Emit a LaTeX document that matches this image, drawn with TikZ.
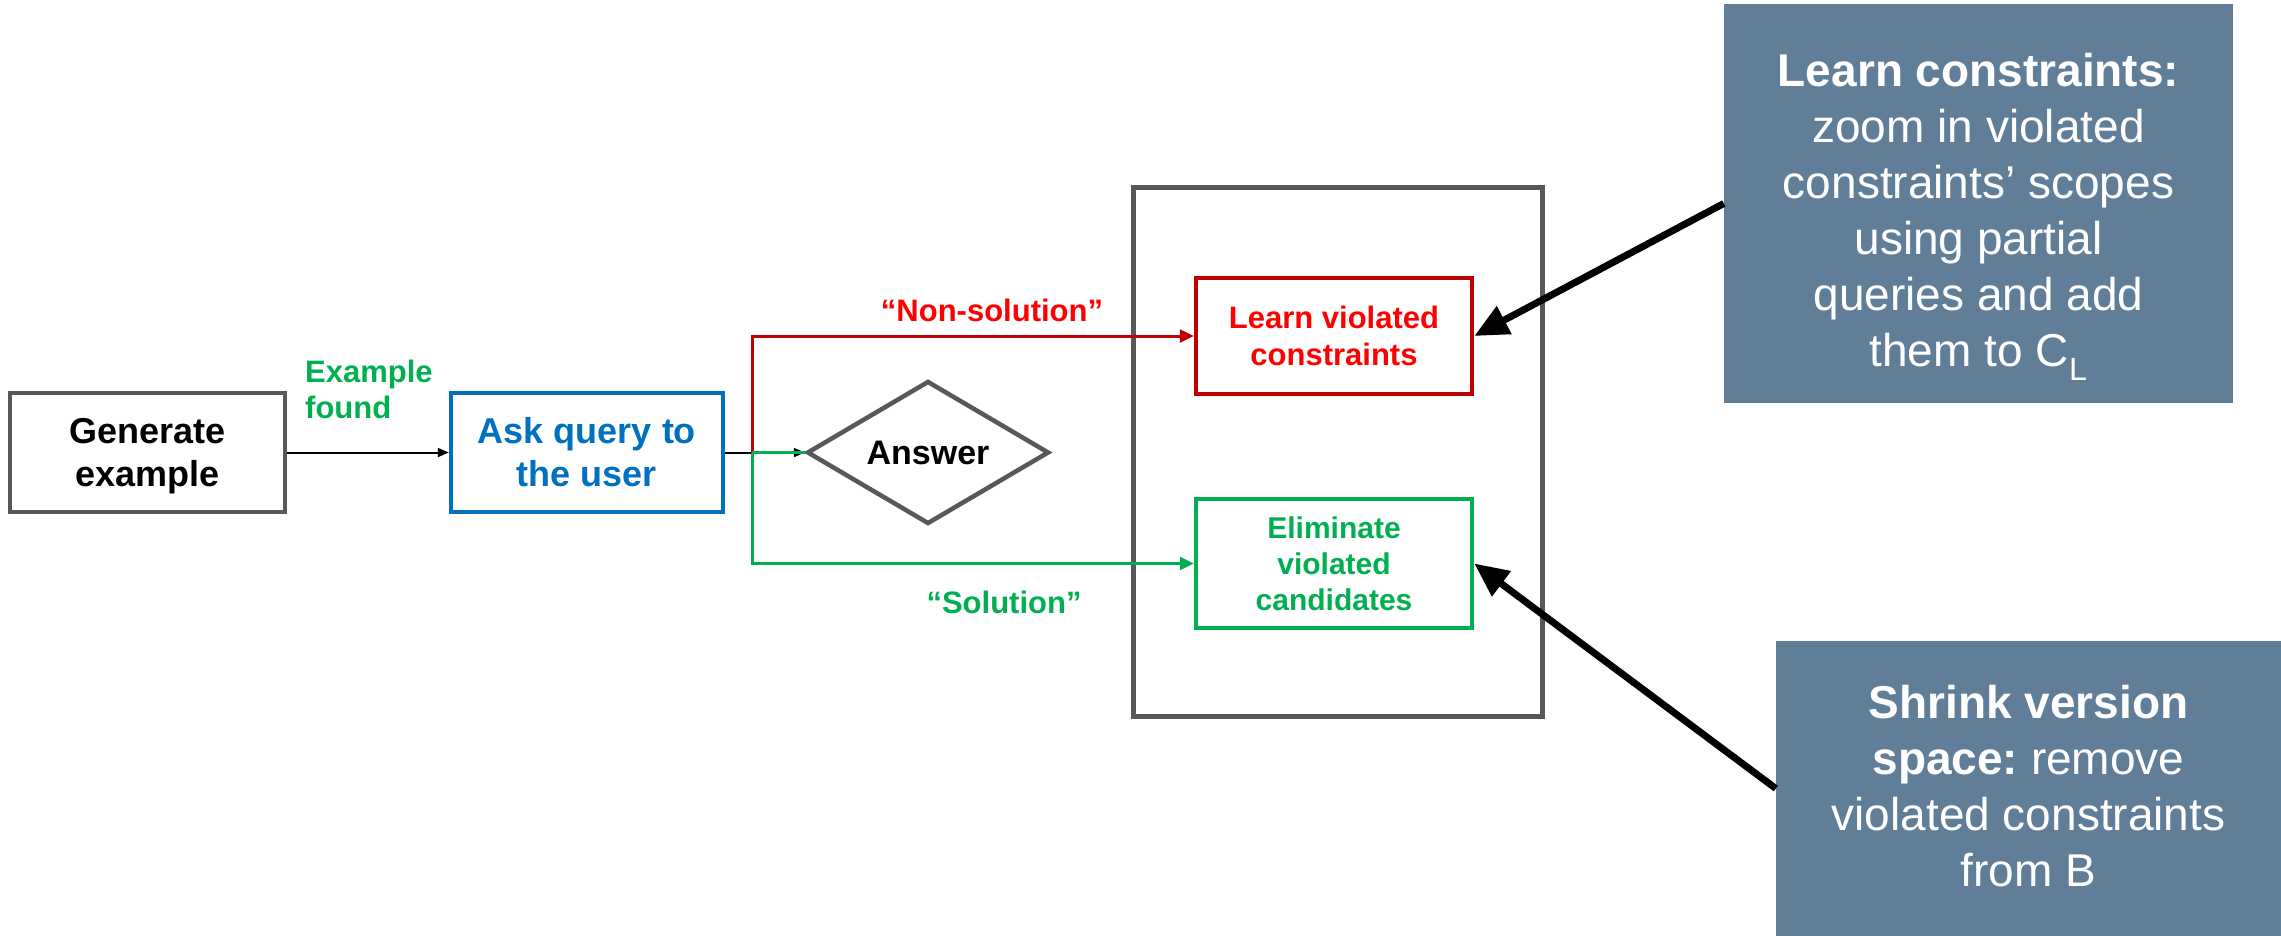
\documentclass[tikz,border=0pt]{standalone}
\usepackage{fontspec}
\setmainfont{Liberation Sans}
\usetikzlibrary{arrows.meta,shapes.geometric}
\definecolor{boxgray}{HTML}{58585A}
\definecolor{qblue}{HTML}{0070C0}
\definecolor{dred}{HTML}{C00000}
\definecolor{bred}{HTML}{FF0000}
\definecolor{qgreen}{HTML}{00B050}
\definecolor{slate}{HTML}{607E98}
\frenchspacing
\begin{document}
\begin{tikzpicture}[x=1pt,y=-1pt,
  procbox/.style={draw, line width=4.5pt, align=center, inner sep=0pt},
  notebox/.style={fill=slate, inner sep=0pt},
  notetext/.style={text=white, align=center, inner sep=0pt,
    font=\fontsize{46pt}{56pt}\selectfont},
  lbl/.style={font=\fontsize{31pt}{36pt}\selectfont\bfseries, inner sep=0pt},
  thinarrow/.style={line width=2pt, -{Triangle[length=11pt,width=9pt]}},
  colarrow/.style={line width=3pt, -{Triangle[length=14pt,width=13pt]}},
  bigarrow/.style={line width=7pt, -{Triangle[length=34pt,width=30pt]}}
]
\useasboundingbox (0,0) rectangle (2281,936);

% frame
\node[draw=boxgray, line width=5pt, minimum width=409pt, minimum height=528pt, inner sep=0pt] (frame) at (1337.5,452) {};

% boxes
\node[procbox, draw=boxgray, minimum width=275pt, minimum height=119pt, text depth=0pt,
  font=\fontsize{36pt}{43pt}\selectfont\bfseries] (gen) at (147.5,452.5) {Generate\\example};
\node[procbox, draw=qblue, text=qblue, minimum width=272pt, minimum height=119pt,
  font=\fontsize{36pt}{43pt}\selectfont\bfseries] (ask) at (587,452.5) {Ask query to\\the user};
\node[diamond, draw=boxgray, line width=4.5pt, minimum width=242pt, minimum height=143pt,
  inner sep=0pt, aspect=1.69, font=\fontsize{34pt}{40pt}\selectfont\bfseries] (ans) at (928,452.5) {Answer};
\node[procbox, draw=dred, text=bred, minimum width=276pt, minimum height=116pt,
  font=\fontsize{31pt}{37pt}\selectfont\bfseries] (lv) at (1334,336) {Learn violated\\constraints};
\node[procbox, draw=qgreen, text=qgreen, minimum width=276pt, minimum height=129pt,
  font=\fontsize{30pt}{36pt}\selectfont\bfseries] (el) at (1334,563.5) {Eliminate\\violated\\candidates};

% notes
\node[notebox, minimum width=509pt, minimum height=399pt] (lc) at (1978.5,203.5) {};
\node[notetext] (lct) at (1978.5,217) {\textbf{Learn constraints:}\\zoom in violated\\constraints’ scopes\\using partial\\queries and add\\them to C\textsubscript{L}};
\node[notebox, minimum width=505pt, minimum height=295pt] (sv) at (2028.5,788.5) {};
\node[notetext] (svt) at (2028.5,786) {\textbf{Shrink version}\\\textbf{space:} remove\\violated constraints\\from B};

% connectors
\coordinate (j) at (752,452.5);
\draw[thinarrow] (gen) -- (ask);
\draw[thinarrow] (ask) -- (ans);
\draw[colarrow, color=dred] (j) |- (lv.west);
\draw[line width=3pt, qgreen] (ans.west) -- (j);
\draw[colarrow, color=qgreen] (j) |- (el.west);
\draw[bigarrow] (lc.west) -- (lv.east);
\draw[bigarrow] (sv.west) -- (el.east);

% labels
\node[lbl, text=qgreen, align=left, anchor=west] (ef) at (305,389) {Example\\found};
\node[lbl, text=bred] (ns) at (992,310) {“Non-solution”};
\node[lbl, text=qgreen] (so) at (1004,602) {“Solution”};
\end{tikzpicture}
\end{document}
